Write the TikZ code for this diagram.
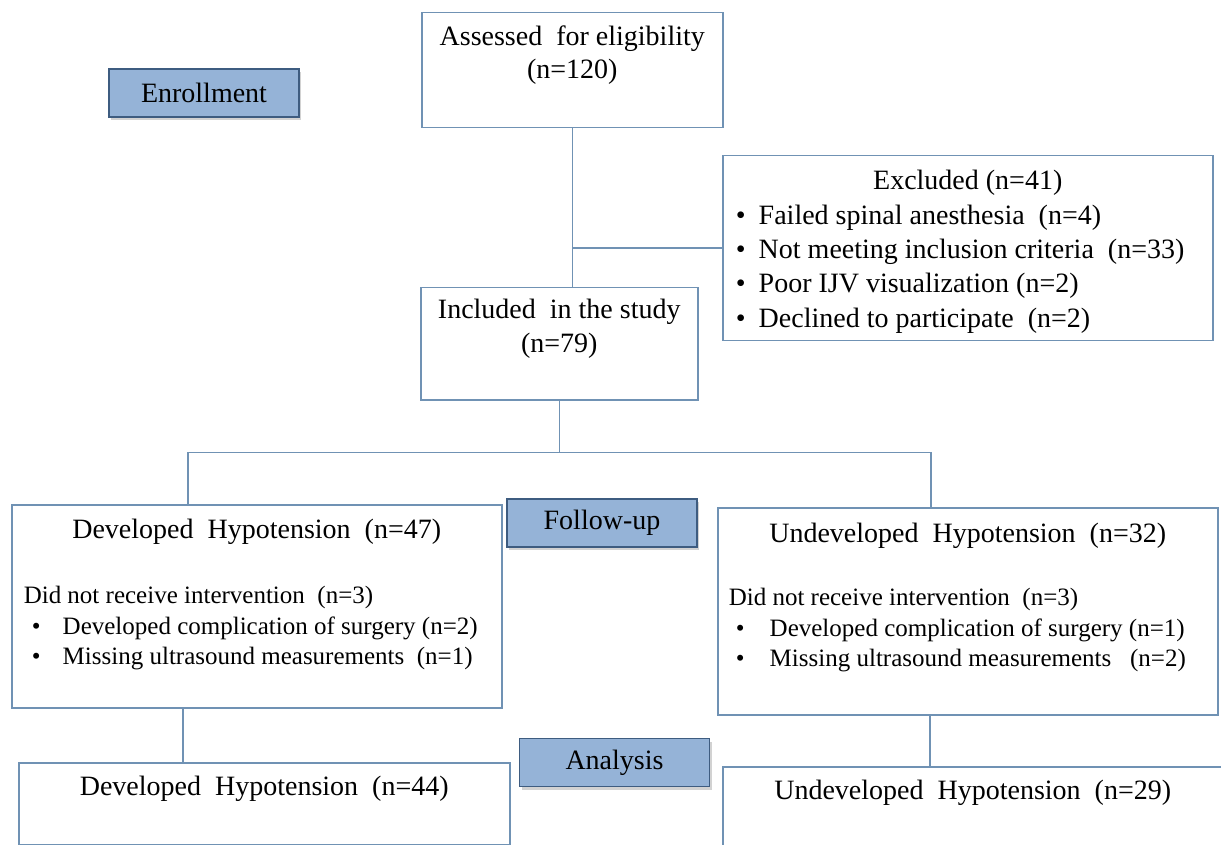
\documentclass[tikz,border=0pt]{standalone}
\usepackage{fontspec}
\setmainfont{Liberation Serif}
\usetikzlibrary{calc,shadows}

\definecolor{boxline}{RGB}{112,146,180}
\definecolor{tagfill}{RGB}{149,179,215}
\definecolor{tagline}{RGB}{62,92,128}

\newcommand{\tsize}[1]{\fontsize{14}{#1}\selectfont}
\newcommand{\lsize}{\fontsize{12.5}{15.25}\selectfont}
\newcommand{\bul}[1]{\makebox[#1][l]{\textbullet}}

\tikzset{
  box/.style={draw=boxline, line width=0.75pt, fill=white, inner sep=0pt, anchor=north west},
  tag/.style={draw=tagline, fill=tagfill, line width=0.9pt, minimum width=95pt, minimum height=24pt,
    inner sep=0pt, font=\tsize{17}, drop shadow={shadow xshift=1.2pt, shadow yshift=-1.5pt, opacity=0.35}},
  link/.style={draw=boxline, line width=0.75pt}
}

\begin{document}
\begin{tikzpicture}[x=0.5pt,y=-0.5pt]

    \useasboundingbox (0,0) rectangle (1221,845);
    \clip (0,0) rectangle (1221,845);
    \fill[white] (0,0) rectangle (1221,845);

    \node[box] (assess) at (421,12) {\parbox[t][57.5pt][t]{150.5pt}{\tsize{16.5}\centering
        \rule{0pt}{16.5pt}Assessed\ \ for eligibility\\(n=120)}};
    \node[box] (excl) at (722,155) {\parbox[t][92.5pt][t]{245pt}{\tsize{17.2}\centering
        \rule{0pt}{17pt}Excluded (n=41)\par\raggedright
        \hspace*{6.5pt}\bul{11.5pt}Failed spinal anesthesia\ \ (n=4)\\
        \hspace*{6.5pt}\bul{11.5pt}Not meeting\ inclusion criteria\ \ (n=33)\\
        \hspace*{6.5pt}\bul{11.5pt}Poor IJV visualization\ (n=2)\\
        \hspace*{6.5pt}\bul{11.5pt}Declined to participate\ \ (n=2)}};
    \node[box] (incl) at (420,287) {\parbox[t][56pt][t]{138.5pt}{\tsize{17}\centering
        \rule{0pt}{15.5pt}Included\ \ in the study\\(n=79)}};

    \node[box] (dev) at (11,504) {\parbox[t][101.5pt][t]{245pt}{\tsize{17}\centering
        \rule{0pt}{17pt}Developed\ \ Hypotension\ \ (n=47)\par\vspace{17.25pt}\lsize\raggedright
        \hspace*{6pt}Did not receive intervention\ \ (n=3)\\
        \hspace*{10pt}\bul{15.5pt}Developed complication of surgery (n=2)\\
        \hspace*{10pt}\bul{15.5pt}Missing ultrasound measurements\ \ (n=1)}};
    \node[box] (undev) at (717,507) {\parbox[t][103.5pt][t]{250pt}{\tsize{17}\centering
        \rule{0pt}{17.5pt}Undeveloped\ \ Hypotension\ \ (n=32)\par\vspace{16.25pt}\lsize\raggedright
        \hspace*{5.5pt}Did not receive intervention\ \ (n=3)\\
        \hspace*{9pt}\bul{17pt}Developed complication of surgery (n=1)\\
        \hspace*{9pt}\bul{17pt}Missing ultrasound measurements\ \ \ (n=2)}};

    \node[box] (dev44) at (18,762) {\parbox[t][41pt][t]{245.5pt}{\tsize{17}\centering
        \rule{0pt}{16.5pt}Developed\ \ Hypotension\ \ (n=44)}};
    \node[box] (undev29) at (722,766) {\parbox[t][45pt][t]{262pt}{\tsize{17}\raggedright
        \rule{0pt}{16.5pt}\makebox[250pt][c]{Undeveloped\ \ Hypotension\ \ (n=29)}}};

    \node[tag] (enroll) at (204,93) {Enrollment};
    \node[tag] (follow) at (602,523) {Follow-up};
    \node[tag] (analysis) at (614.5,762.5) {Analysis};

    \coordinate (split) at ($(incl.south)+(0,52)$);
    \coordinate (devin) at ($(dev.north west)+(177,0)$);
    \coordinate (undevin) at ($(undev.north west)+(214,0)$);
    \coordinate (devout) at ($(dev.south west)+(172,0)$);
    \coordinate (undevout) at ($(undev.south west)+(213,0)$);

    \draw[link] (assess.south) -- (assess.south |- incl.north);
    \draw[link] (excl.west) -- (excl.west -| assess.south);
    \draw[link] (incl.south) -- (split);
    \draw[link] (devin) -- (devin |- split) -- (undevin |- split) -- (undevin);
    \draw[link] (devout) -- (devout |- dev44.north);
    \draw[link] (undevout) -- (undevout |- undev29.north);

\end{tikzpicture}
\end{document}
